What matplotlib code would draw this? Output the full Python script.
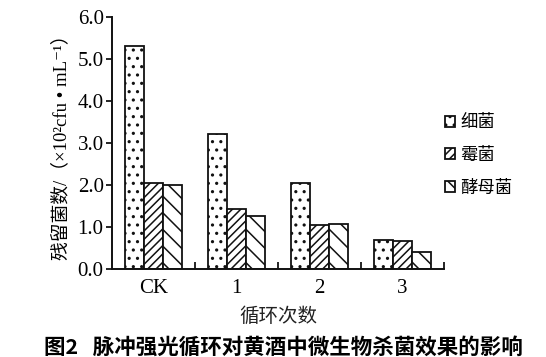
import matplotlib
matplotlib.use("Agg")
import matplotlib.pyplot as plt
import numpy as np

categories = ["CK", "1", "2", "3"]
series_names = ["细菌", "霉菌", "酵母菌"]
bacteria = [5.30, 3.22, 2.05, 0.69]
mold = [2.05, 1.43, 1.05, 0.67]
yeast = [2.00, 1.27, 1.08, 0.40]
yticks = [0.0, 1.0, 2.0, 3.0, 4.0, 5.0, 6.0]

SERIF = ["Liberation Serif", "Noto Sans CJK SC", "DejaVu Sans"]
CJK = ["Noto Sans CJK SC", "DejaVu Sans"]

plt.rcParams["hatch.linewidth"] = 1.1
plt.rcParams["font.family"] = SERIF

fig = plt.figure(figsize=(5.46, 3.57), dpi=100)
ax = fig.add_axes([112/546, 1-269/357, (444-112)/546, (269-17)/357])

x = np.arange(len(categories))
w = 0.23
hatches = ["..", "////", "\\\\"]
data = [bacteria, mold, yeast]
handles = []
for i, (vals, h, name) in enumerate(zip(data, hatches, series_names)):
    b = ax.bar(x + (i-1)*w, vals, width=w, facecolor="white", edgecolor="#111111",
               hatch=h, linewidth=1.3, label=name)
    handles.append(b)

ax.set_xlim(-0.5, 3.5)
ax.set_ylim(0, 6.0)
ax.set_yticks(yticks)
ax.set_yticklabels([f"{v:.1f}" for v in yticks], fontsize=15, family=SERIF)
ax.set_xticks(x)
ax.set_xticklabels(categories, fontsize=15, family=SERIF)
ax.tick_params(axis="x", length=0, pad=7)
ax.set_xticks([0.5, 1.5, 2.5, 3.5], minor=True)
ax.tick_params(axis="x", which="minor", direction="in", length=5, width=1.2)
ax.tick_params(axis="y", direction="out", length=4, width=1.2, pad=2)
for s in ["top", "right"]:
    ax.spines[s].set_visible(False)
for s in ["left", "bottom"]:
    ax.spines[s].set_linewidth(1.4)
    ax.spines[s].set_color("#111111")

ax.set_xlabel("循环次数", fontsize=14, family=CJK, labelpad=6, color="#222222")
ax.set_ylabel("残留菌数/（×10²cfu • mL⁻¹）", fontsize=13.5, family=SERIF, labelpad=5)

leg = ax.legend(handles=handles, labels=series_names, loc="upper left",
                bbox_to_anchor=(0.955, 0.68), frameon=False,
                handlelength=0.6, handleheight=0.6, labelspacing=0.85,
                handletextpad=0.3, prop={"family": CJK, "size": 12.5})

fig.text(0.519, 1-347/357, "图2   脉冲强光循环对黄酒中微生物杀菌效果的影响", ha="center", va="center",
         fontsize=15.5, fontweight="bold", family=CJK)

fig.savefig("out.png", dpi=100)
